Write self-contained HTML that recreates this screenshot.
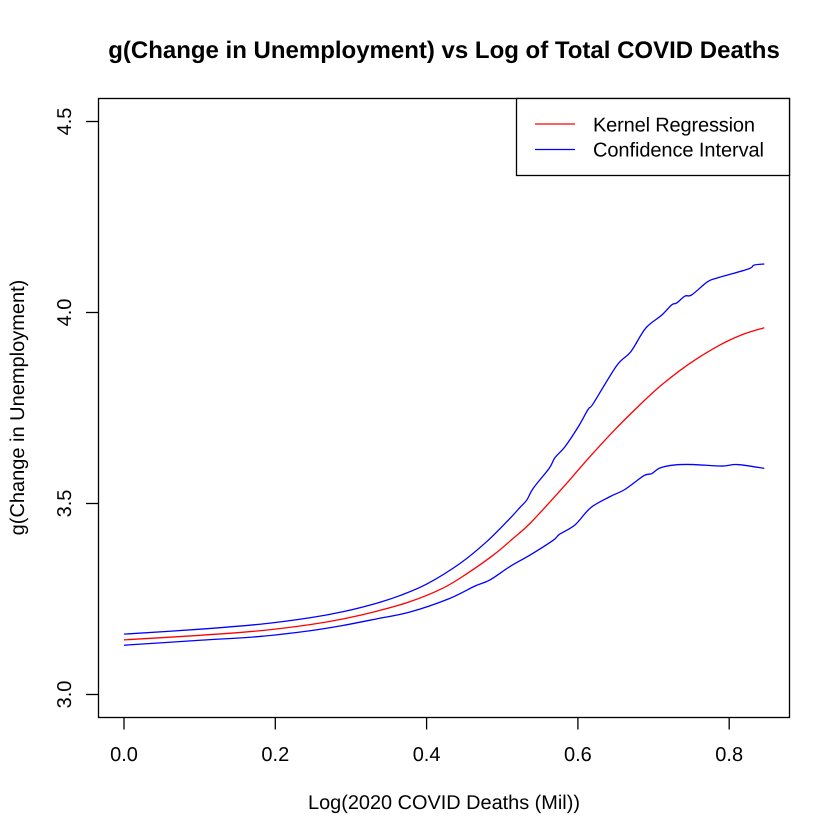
<!DOCTYPE html>
<html lang="en">
<head>
<meta charset="utf-8">
<title>g(Change in Unemployment) vs Log of Total COVID Deaths</title>
<style>
html,body{margin:0;padding:0;background:#fff;width:840px;height:840px;overflow:hidden}
svg{display:block;font-family:"Liberation Sans",Arial,sans-serif;text-rendering:geometricPrecision}
text{fill:#000}
</style>
</head>
<body>
<svg id="chart" xmlns="http://www.w3.org/2000/svg" width="840" height="840" viewBox="0 0 840 840">
  <rect x="0" y="0" width="840" height="840" fill="#fff"/>
  <text x="444" y="58" text-anchor="middle" font-size="24" font-weight="bold">g(Change in Unemployment) vs Log of Total COVID Deaths</text>
  <text x="444" y="809" text-anchor="middle" font-size="19.9">Log(2020 COVID Deaths (Mil))</text>
  <text transform="translate(24 407.5) rotate(-90)" text-anchor="middle" font-size="20">g(Change in Unemployment)</text>
  <g id="axes"></g>
  <g id="series"></g>
  <rect x="98.5" y="98.5" width="691" height="619" fill="none" stroke="#000" stroke-width="1.3"/>
  <g>
    <rect x="516.5" y="98.5" width="273" height="77" fill="#fff" stroke="#000" stroke-width="1.3"/>
    <line x1="535" x2="575" y1="124" y2="124" stroke="#ff0000" stroke-width="1.3"/>
    <line x1="535" x2="575" y1="149.5" y2="149.5" stroke="#0000ff" stroke-width="1.3"/>
    <text x="593" y="131.5" font-size="20" textLength="162" lengthAdjust="spacing">Kernel Regression</text>
    <text x="593" y="156.5" font-size="20" textLength="171" lengthAdjust="spacing">Confidence Interval</text>
  </g>
</svg>
<script>
const xTicks = [0.0, 0.2, 0.4, 0.6, 0.8];
const xTickLabels = ["0.0", "0.2", "0.4", "0.6", "0.8"];
const yTicks = [3.0, 3.5, 4.0, 4.5];
const yTickLabels = ["3.0", "3.5", "4.0", "4.5"];

const kernelX = [0, 0.1005, 0.1798, 0.2459, 0.2899, 0.334, 0.3781, 0.4221, 0.453, 0.4882, 0.5146, 0.5367, 0.5786, 0.6116, 0.6468, 0.6865, 0.7129, 0.7482, 0.7879, 0.8186, 0.8464];
const kernelY = [3.143, 3.155, 3.167, 3.183, 3.198, 3.218, 3.243, 3.279, 3.316, 3.365, 3.409, 3.448, 3.538, 3.613, 3.689, 3.767, 3.814, 3.867, 3.915, 3.943, 3.960];

const upperX = [0, 0.1005, 0.1798, 0.2459, 0.2899, 0.334, 0.3648, 0.4001, 0.4441, 0.4794, 0.5102, 0.5235, 0.5324, 0.541, 0.562, 0.5697, 0.583, 0.6005, 0.6137, 0.6204, 0.6513, 0.6698, 0.6896, 0.7108, 0.724, 0.7306, 0.7416, 0.7504, 0.771, 0.7835, 0.8252, 0.8328, 0.8464];
const upperY = [3.158, 3.171, 3.184, 3.201, 3.217, 3.239, 3.259, 3.289, 3.343, 3.400, 3.461, 3.490, 3.509, 3.540, 3.592, 3.620, 3.649, 3.701, 3.747, 3.762, 3.861, 3.897, 3.959, 3.993, 4.020, 4.025, 4.043, 4.046, 4.080, 4.090, 4.114, 4.124, 4.127];

const lowerX = [0, 0.1005, 0.1798, 0.2459, 0.2899, 0.334, 0.3781, 0.4287, 0.464, 0.4838, 0.5102, 0.5367, 0.5675, 0.5754, 0.5962, 0.6169, 0.6424, 0.6623, 0.6874, 0.6975, 0.7085, 0.7284, 0.7526, 0.79, 0.8107, 0.8464];
const lowerY = [3.129, 3.142, 3.152, 3.167, 3.181, 3.198, 3.216, 3.250, 3.284, 3.300, 3.335, 3.365, 3.404, 3.419, 3.444, 3.489, 3.518, 3.537, 3.573, 3.578, 3.593, 3.601, 3.602, 3.598, 3.602, 3.592];

const SVG_NS = "http://www.w3.org/2000/svg";
const scaleX = v => 124 + v * 756.5;
const scaleY = v => 694.5 - (v - 3) * 382;

function make(tag, attrs, parent) {
  const el = document.createElementNS(SVG_NS, tag);
  for (const k in attrs) el.setAttribute(k, attrs[k]);
  parent.appendChild(el);
  return el;
}

const axes = document.getElementById("axes");
const series = document.getElementById("series");

xTicks.forEach((t, i) => {
  const tick = make("line", {x1: scaleX(t), x2: scaleX(t), y1: 717.5, y2: 729.5, stroke: "#000", "stroke-width": 1.3}, axes);
  
  
  const label = make("text", {x: scaleX(t), y: 761, "text-anchor": "middle", "font-size": 20}, axes);
  label.textContent = xTickLabels[i];
  
  
});

yTicks.forEach((t, i) => {
  const tick = make("line", {x1: 86, x2: 98.5, y1: scaleY(t), y2: scaleY(t), stroke: "#000", "stroke-width": 1.3}, axes);
  
  
  const label = make("text", {transform: "translate(71 " + scaleY(t) + ") rotate(-90)", "text-anchor": "middle", "font-size": 20}, axes);
  label.textContent = yTickLabels[i];
  
  
});

// Smooth path through the data points (Catmull-Rom converted to cubic Beziers).
function linePath(xs, ys) {
  const p = xs.map((x, i) => [scaleX(x), scaleY(ys[i])]);
  let d = "M" + p[0][0].toFixed(2) + " " + p[0][1].toFixed(2);
  for (let i = 0; i < p.length - 1; i++) {
    const a = p[Math.max(i - 1, 0)], b = p[i], c = p[i + 1], e = p[Math.min(i + 2, p.length - 1)];
    const c1x = b[0] + (c[0] - a[0]) / 6, c1y = b[1] + (c[1] - a[1]) / 6;
    const c2x = c[0] - (e[0] - b[0]) / 6, c2y = c[1] - (e[1] - b[1]) / 6;
    d += "C" + c1x.toFixed(2) + " " + c1y.toFixed(2) + " " + c2x.toFixed(2) + " " + c2y.toFixed(2) + " " + c[0].toFixed(2) + " " + c[1].toFixed(2);
  }
  return d;
}

const lineStyle = {fill: "none", "stroke-width": 1.3, "stroke-linejoin": "round"};

const upperLine = make("path", Object.assign({d: linePath(upperX, upperY), stroke: "#0000ff"}, lineStyle), series);



const kernelLine = make("path", Object.assign({d: linePath(kernelX, kernelY), stroke: "#ff0000"}, lineStyle), series);



const lowerLine = make("path", Object.assign({d: linePath(lowerX, lowerY), stroke: "#0000ff"}, lineStyle), series);


</script>
</body>
</html>
